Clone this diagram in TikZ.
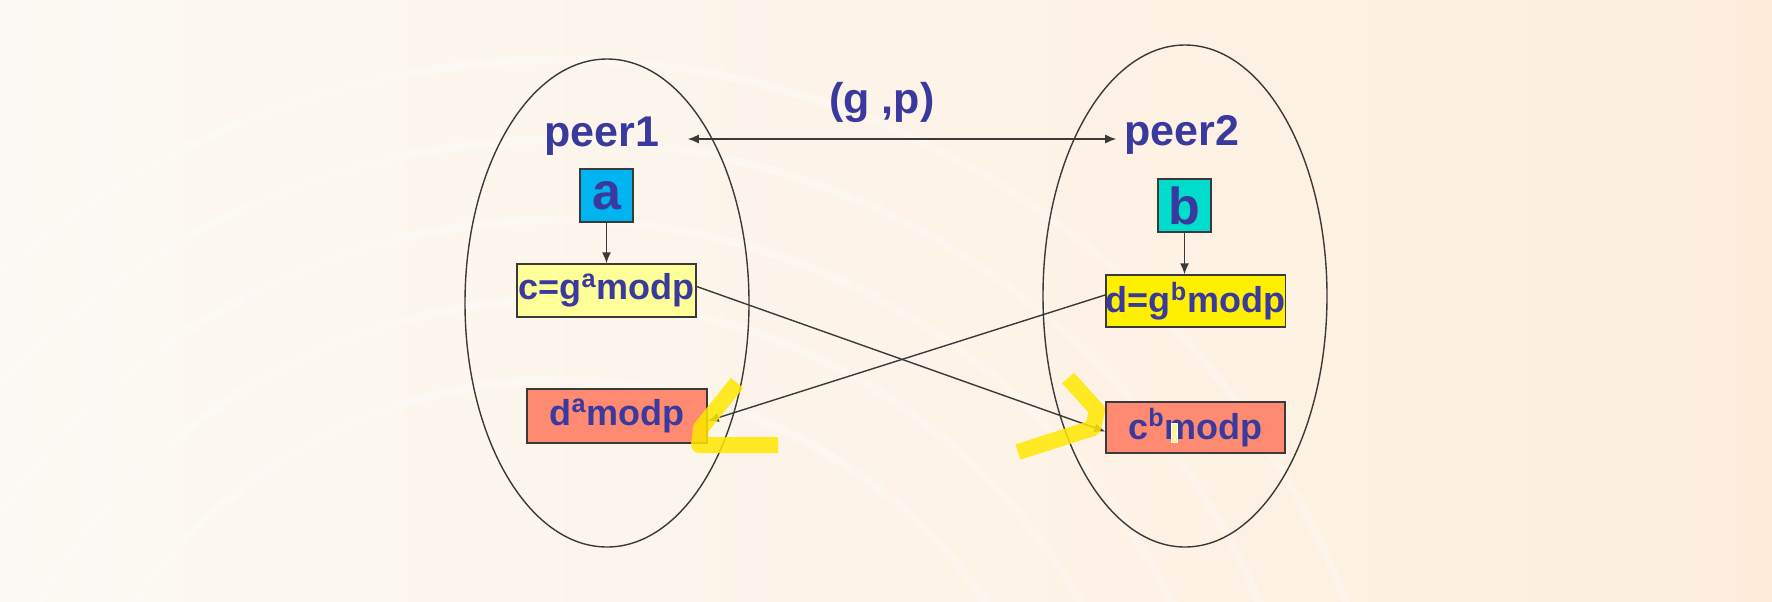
\documentclass[tikz,border=0pt]{standalone}
\usepackage{fontspec}
\setmainfont{Liberation Sans}
\usetikzlibrary{arrows.meta}
\definecolor{txtblue}{HTML}{3A3A9E}
\definecolor{bgleft}{HTML}{FCF9F4}
\definecolor{bgright}{HTML}{FDEEDC}
\definecolor{boxa}{HTML}{00B4F0}
\definecolor{boxb}{HTML}{00DDCC}
\definecolor{boxc}{HTML}{FFFF99}
\definecolor{boxd}{HTML}{FFF000}
\definecolor{salmon}{HTML}{FF8A72}
\definecolor{hilite}{HTML}{FFE800}
\definecolor{edge}{HTML}{3A3A3A}
\tikzset{
  lbl/.style={inner sep=0pt, text=txtblue, font=\fontsize{21.5pt}{24pt}\selectfont\bfseries},
  box/.style={draw=edge, line width=0.7pt, inner sep=0pt, text=txtblue,
    font=\fontsize{18pt}{20pt}\selectfont\bfseries, minimum height=26.5pt},
  sqbox/.style={draw=edge, line width=0.7pt, inner sep=0pt, text=txtblue,
    font=\fontsize{26pt}{28pt}\selectfont\bfseries, minimum width=26.5pt, minimum height=26.5pt},
  conn/.style={draw=edge, line width=0.7pt, -{Latex[length=5.5pt,width=4.5pt]}},
  peerring/.style={draw=edge, line width=0.7pt},
  marker/.style={draw=hilite, line width=8pt, opacity=0.85, line join=round}
}
\begin{document}
\begin{tikzpicture}[x=0.5pt,y=-0.5pt]
% background
\shade[left color=bgleft, right color=bgright] (0,0) rectangle (1772,601);
\useasboundingbox (0,0) rectangle (1772,601);
\begin{scope}
\clip (0,0) rectangle (1772,601);
\foreach \r in {520,600,680,760,840}
  \draw[white, line width=4pt, opacity=0.3] (560,900) circle (\r);
\end{scope}
% ellipses
\draw[peerring] (607,303) ellipse (142 and 244);
\draw[peerring] (1185,296) ellipse (142 and 251);
% labels
\node[lbl, anchor=base] (peer1) at (602,146) {peer1};
\node[lbl, anchor=base] (peer2) at (1182,145) {peer2};
\node[lbl, anchor=base] (gp) at (882,113) {(g ,p)};
% boxes
\node[sqbox, fill=boxa] (a) at (606.5,195.5) {a};
\node[sqbox, fill=boxb] (b) at (1184.5,205.5) {b};
\node[box, fill=boxc, minimum width=89.5pt] (c) at (606.5,290.5) {c=g\textsuperscript{a}modp};
\node[box, fill=boxd, minimum width=89.5pt, minimum height=26pt] (d) at (1195.5,301) {d=g\textsuperscript{b}modp};
\node[box, fill=salmon, minimum width=90pt, minimum height=27pt] (da) at (617,416) {d\textsuperscript{a}modp};
\node[box, fill=salmon, minimum width=89.5pt, minimum height=25.5pt] (cb) at (1195.5,427.5) {c\textsuperscript{b}modp};
% connectors
\draw[draw=edge, line width=0.7pt, {Latex[length=5.5pt,width=4.5pt]}-{Latex[length=5.5pt,width=4.5pt]}]
  ([shift={(14pt,3.5pt)}]peer1.base east) -- ([shift={(-4pt,3pt)}]peer2.base west);
\draw[conn] (a.south) -- (c.north);
\draw[conn] (b.south) -- (b.south |- d.north);
\draw[conn] ([yshift=2pt]c.east) -- ([yshift=-2pt]cb.west);
\draw[conn] ([yshift=3pt]d.west) -- ([yshift=-2.5pt]da.east);
% highlighter marks
\draw[marker] (737,383) -- (701,428) -- (699,445) -- (778,445);
\draw[marker] (1068,378) -- (1097,410) -- (1093,428) -- (1018,452);
\node[draw=white, line width=0.4pt, fill=hilite!40, inner sep=0pt, minimum width=3pt, minimum height=9.5pt] (cur) at (1174,432.5) {};
\end{tikzpicture}
\end{document}
